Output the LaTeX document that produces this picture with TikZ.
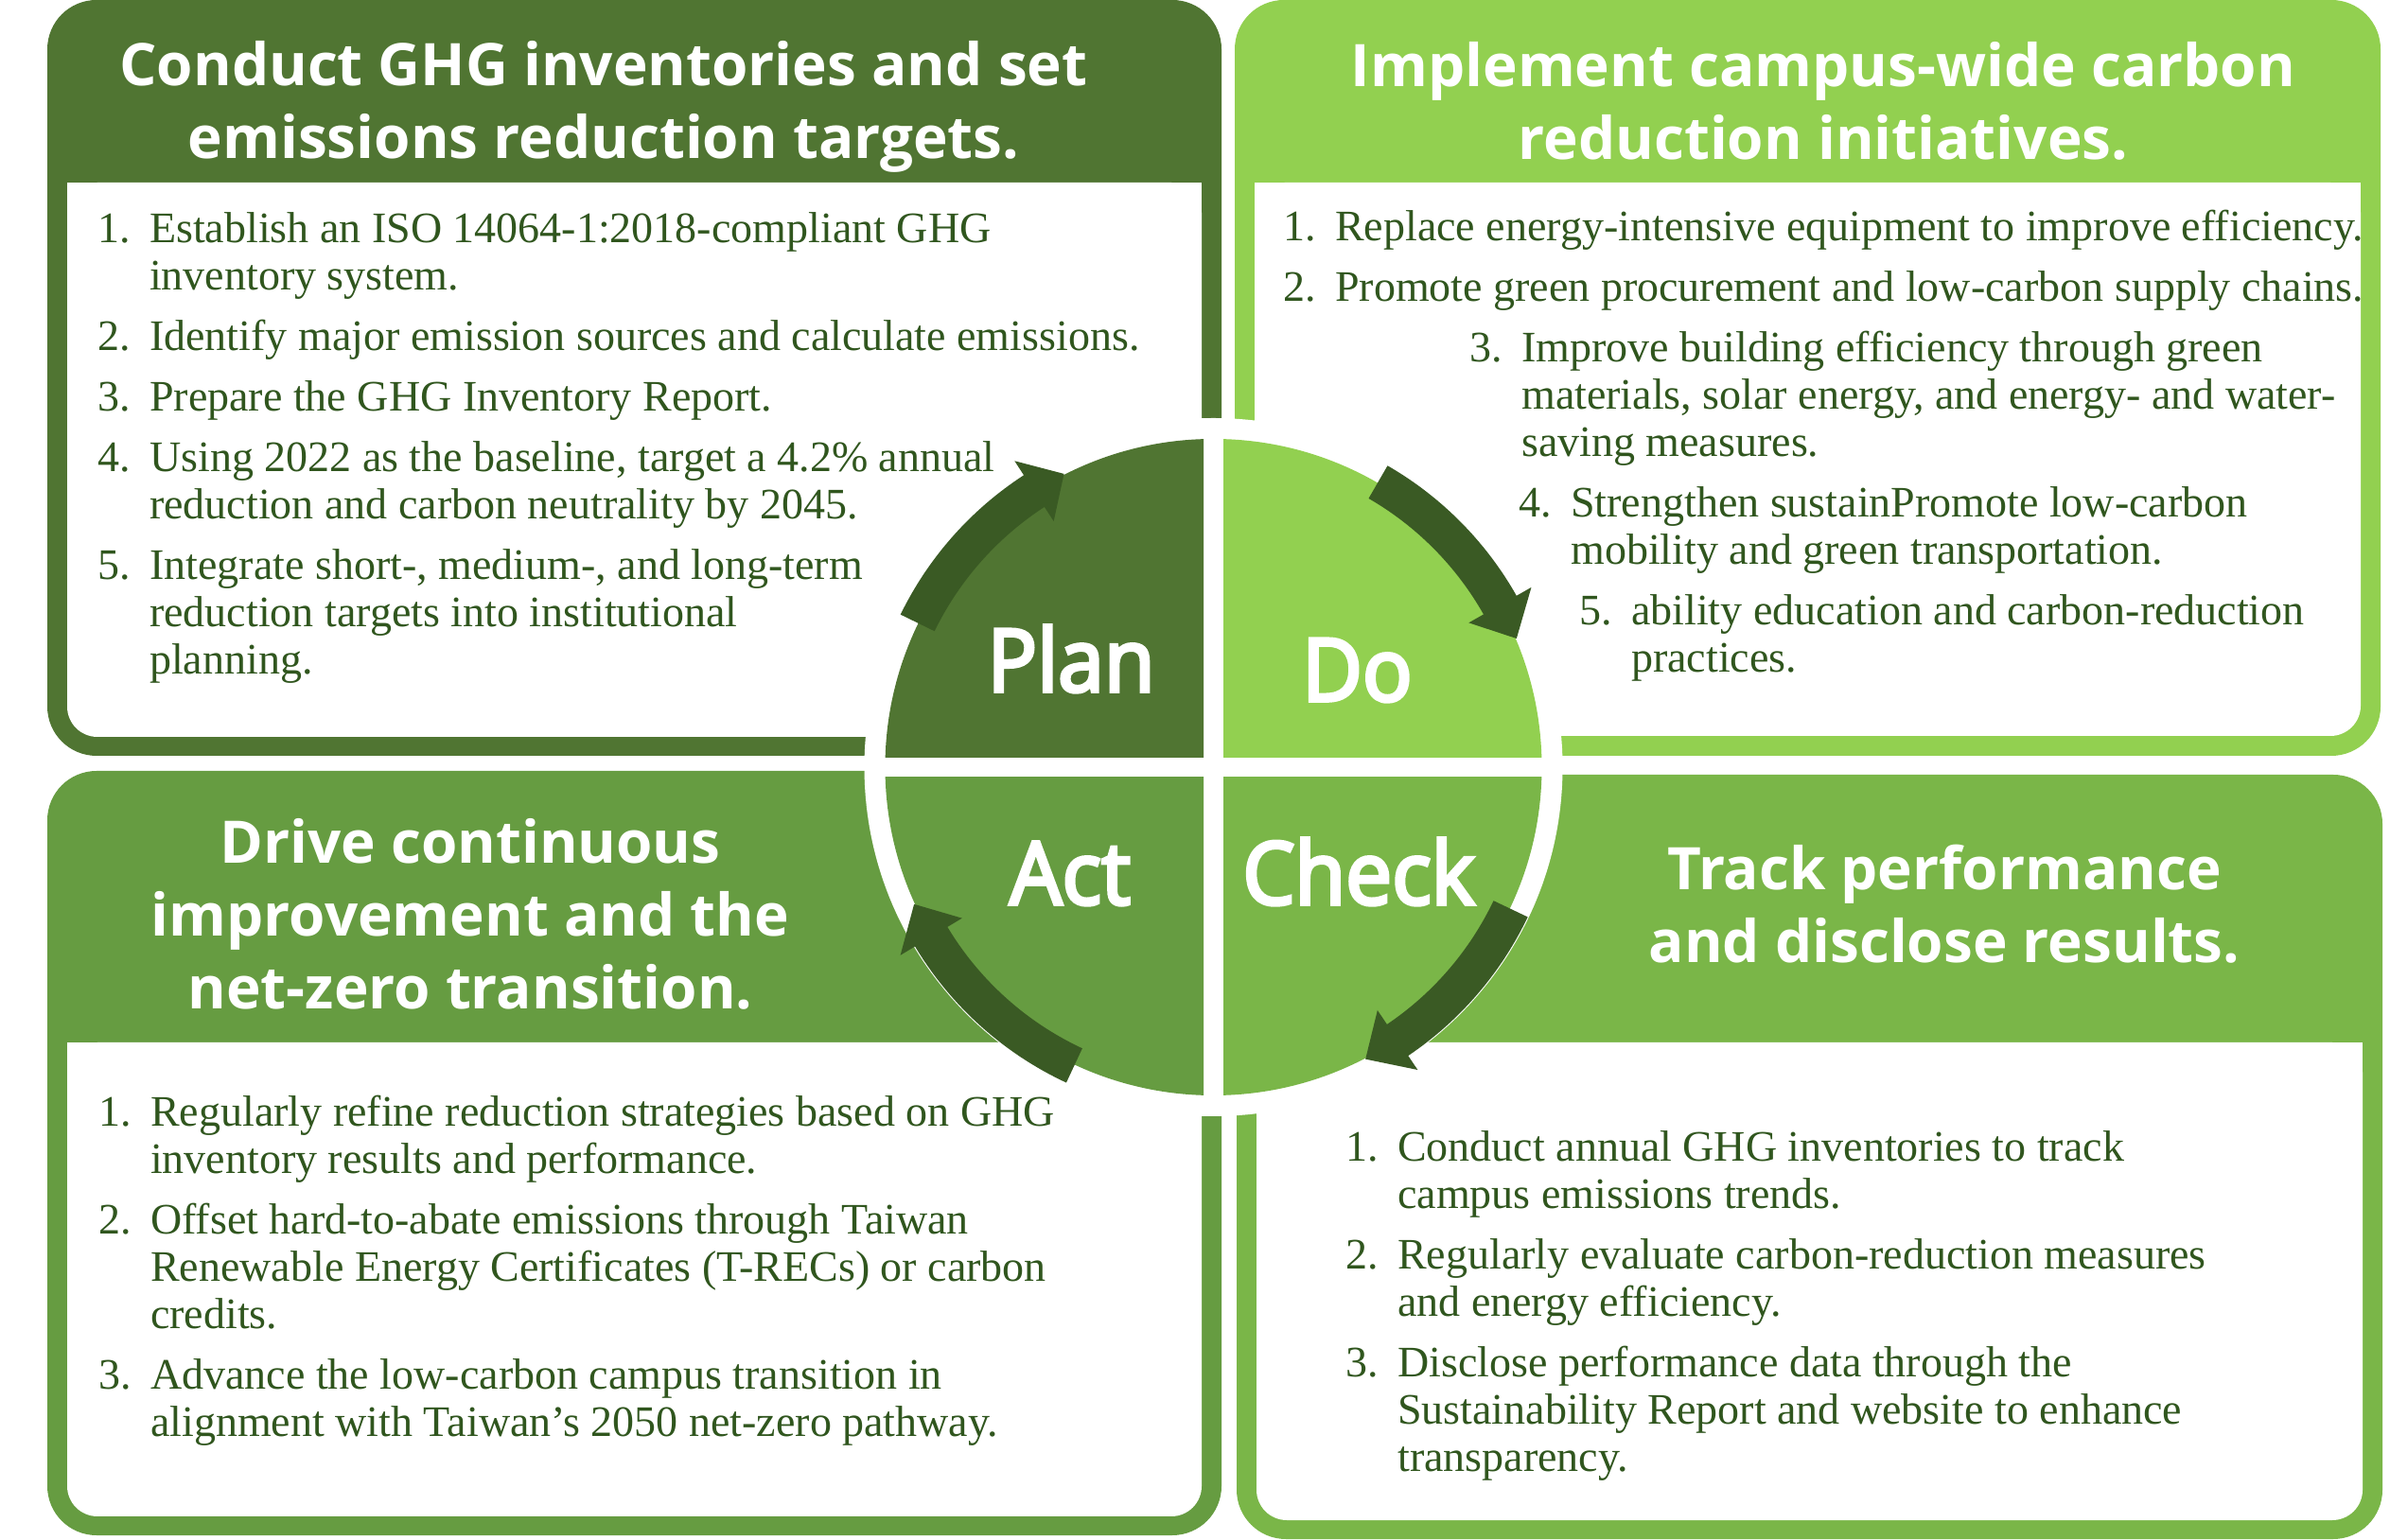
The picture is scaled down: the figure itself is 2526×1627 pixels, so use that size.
\documentclass[tikz,border=0pt]{standalone}
\usepackage{fontspec}
\setmainfont{Liberation Serif}
\setsansfont{Open Sans}
\newfontfamily\phasefont[FakeStretch=0.95, FakeBold=4]{Open Sans}
\usetikzlibrary{calc}
\definecolor{plangreen}{HTML}{507532}
\definecolor{dogreen}{HTML}{92D050}
\definecolor{actgreen}{HTML}{669C41}
\definecolor{checkgreen}{HTML}{7AB648}
\definecolor{arrowgreen}{HTML}{3A5A24}
\definecolor{textgreen}{HTML}{30561E}
\newcommand{\clrarrow}{arrowgreen}
\newcommand{\clrtext}{textgreen}
\newcommand{\itemno}[1]{\makebox[55pt][l]{#1}}
\newcommand{\cont}{\hspace*{55pt}}
\tikzset{
    headtext/.style={anchor=base, inner sep=0pt, text=white, font=\sffamily\bfseries\fontsize{62}{77}\selectfont},
    listtext/.style={anchor=base west, inner sep=0pt, text=\clrtext, font=\rmfamily\fontsize{46}{50}\selectfont},
    phaselabel/.style={anchor=base, inner sep=0pt, text=white, font=\phasefont\fontsize{92}{100}\selectfont}
}

\begin{document}
\begin{tikzpicture}[x=1pt, y=1pt]
    \useasboundingbox (0,0) rectangle (2526,1627);

    % four panels with white text boxes
    \fill[plangreen, rounded corners=52pt] (50,828) rectangle (1291,1627);
    \fill[white, rounded corners=32pt] (71,848) rectangle (1270,1434);
    \fill[white] (71,1300) rectangle (1270,1434);

    \fill[dogreen, rounded corners=52pt] (1305,828) rectangle (2516,1627);
    \fill[white, rounded corners=32pt] (1326,849) rectangle (2495,1434);
    \fill[white] (1326,1300) rectangle (2495,1434);

    \fill[actgreen, rounded corners=52pt] (50,4) rectangle (1291,812);
    \fill[white, rounded corners=32pt] (71,24) rectangle (1270,525);
    \fill[white] (71,400) rectangle (1270,525);

    \fill[checkgreen, rounded corners=52pt] (1307,0) rectangle (2518,808);
    \fill[white, rounded corners=32pt] (1328,20) rectangle (2497,525);
    \fill[white] (1328,400) rectangle (2497,525);

    % cycle in the middle
    \coordinate (hub) at (1282.5,816);
    \fill[white] (hub) circle (369);
    \foreach \sx/\sy/\clr in {-1/1/plangreen, 1/1/dogreen, 1/-1/checkgreen, -1/-1/actgreen} {
        \begin{scope}
            \clip ($(hub)+(\sx*10.5,\sy*10.5)$) rectangle ($(hub)+(\sx*400,\sy*400)$);
            \fill[fill=\clr] (hub) circle (347);
        \end{scope}
    }
    \begin{scope}[shift={(hub)}]
        \foreach \s/\b/\t in {154/123/117, 60/29.5/23, -25.5/-56/-62.5, -115/-149/-155.4} {
            \fill[fill=\clrarrow] (\s:368) arc[start angle=\s, end angle=\b, radius=368] -- (\b:386) -- (\t:348) -- (\b:310) -- (\b:328) arc[start angle=\b, end angle=\s, radius=328] -- cycle;
        }
    \end{scope}

    \node[phaselabel] (plan) at (1132,896) {Plan};
    \node[phaselabel] (do) at (1434.5,886) {Do};
    \node[phaselabel] (act) at (1131,671) {Act};
    \node[phaselabel] (check) at (1436,671) {Check};

    % titles
    \node[headtext] (plantitle) at (638,1536) {\begin{tabular}[t]{@{}c@{}}Conduct GHG inventories and set\\emissions reduction targets.\end{tabular}};
    \node[headtext] (dotitle) at (1927,1535) {\begin{tabular}[t]{@{}c@{}}Implement campus-wide carbon\\reduction initiatives.\end{tabular}};
    \node[headtext] (acttitle) at (497,714) {\begin{tabular}[t]{@{}c@{}}Drive continuous\\improvement and the\\net-zero transition.\end{tabular}};
    \node[headtext] (checktitle) at (2055,686) {\begin{tabular}[t]{@{}c@{}}Track performance\\and disclose results.\end{tabular}};

    % lists
    \node[listtext] (planlist) at (103,1370) {\begin{tabular}[t]{@{}l@{}}
        \itemno{1.}Establish an ISO 14064-1:2018-compliant GHG\\
        \cont inventory system.\\[14pt]
        \itemno{2.}Identify major emission sources and calculate emissions.\\[14pt]
        \itemno{3.}Prepare the GHG Inventory Report.\\[14pt]
        \itemno{4.}Using 2022 as the baseline, target a 4.2\% annual\\
        \cont reduction and carbon neutrality by 2045.\\[14pt]
        \itemno{5.}Integrate short-, medium-, and long-term\\
        \cont reduction targets into institutional\\
        \cont planning.
    \end{tabular}};
    \node[listtext] (dolist) at (1356,1372) {\begin{tabular}[t]{@{}l@{}}
        \itemno{1.}Replace energy-intensive equipment to improve efficiency.\\[14pt]
        \itemno{2.}Promote green procurement and low-carbon supply chains.\\[14pt]
        \hspace*{197pt}\itemno{3.}Improve building efficiency through green\\
        \hspace*{197pt}\cont materials, solar energy, and energy- and water-\\
        \hspace*{197pt}\cont saving measures.\\[14pt]
        \hspace*{249pt}\itemno{4.}Strengthen sustainPromote low-carbon\\
        \hspace*{249pt}\cont mobility and green transportation.\\[14pt]
        \hspace*{313pt}\itemno{5.}ability education and carbon-reduction\\
        \hspace*{313pt}\cont practices.
    \end{tabular}};
    \node[listtext] (actlist) at (104,436) {\begin{tabular}[t]{@{}l@{}}
        \itemno{1.}Regularly refine reduction strategies based on GHG\\
        \cont inventory results and performance.\\[14pt]
        \itemno{2.}Offset hard-to-abate emissions through Taiwan\\
        \cont Renewable Energy Certificates (T-RECs) or carbon\\
        \cont credits.\\[14pt]
        \itemno{3.}Advance the low-carbon campus transition in\\
        \cont alignment with Taiwan’s 2050 net-zero pathway.
    \end{tabular}};
    \node[listtext] (checklist) at (1422,399) {\begin{tabular}[t]{@{}l@{}}
        \itemno{1.}Conduct annual GHG inventories to track\\
        \cont campus emissions trends.\\[14pt]
        \itemno{2.}Regularly evaluate carbon-reduction measures\\
        \cont and energy efficiency.\\[14pt]
        \itemno{3.}Disclose performance data through the\\
        \cont Sustainability Report and website to enhance\\
        \cont transparency.
    \end{tabular}};
\end{tikzpicture}
\end{document}
